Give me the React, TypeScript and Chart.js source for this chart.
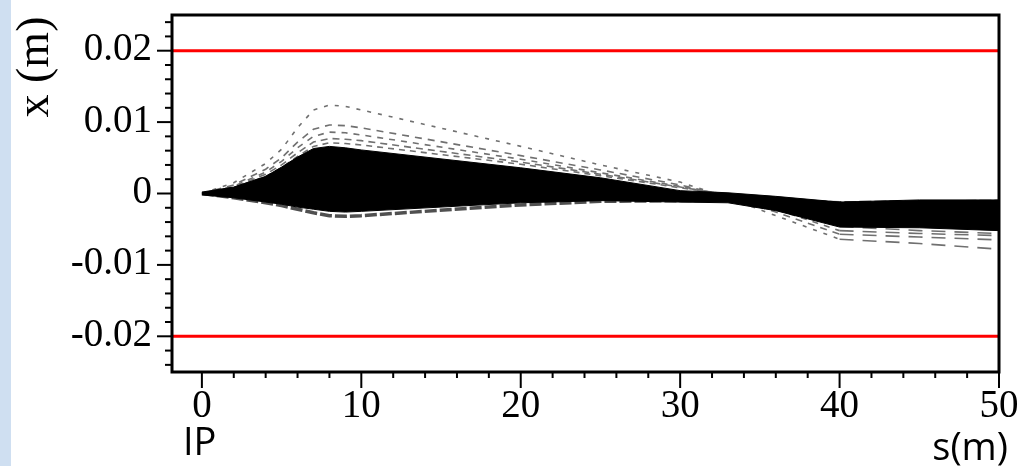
import React, { useEffect, useRef } from "react";
import { Chart, registerables } from "chart.js";

Chart.register(...registerables);

// position along beamline s (m)
const S = [0, 2, 4, 5, 6, 7, 8, 9, 10, 20, 25, 30, 33, 36, 40, 45, 50];

// dense core of the beam (envelope of the black bundle), x (m)
const BAND_UPPER = [0.0002, 0.0009, 0.0024, 0.0037, 0.0051, 0.0063, 0.0066, 0.0064, 0.0061, 0.0036, 0.0022, 0.0004, 0.0001, -0.0004, -0.0012, -0.0009, -0.0009];
const BAND_LOWER = [-0.0002, -0.0006, -0.0012, -0.0015, -0.0019, -0.0022, -0.0025, -0.0026, -0.0025, -0.0013, -0.001, -0.0012, -0.0013, -0.0024, -0.0047, -0.0048, -0.0052];

// grey lower fringe of the bundle
const TRACK_LOW = [0, -0.0006, -0.0013, -0.0017, -0.0022, -0.0027, -0.0031, -0.0032, -0.0031, -0.0016, -0.0011, -0.001, -0.0009, -0.001, -0.0013, -0.0012, -0.0011];

// dashed outlier trajectories
const TRACK_A = [0, 0.0015, 0.0042, 0.0062, 0.0092, 0.0117, 0.0124, 0.0122, 0.0117, 0.0066, 0.004, 0.0016, -0.0006, -0.0031, -0.0064, -0.007, -0.0078];
const TRACK_B = [0, 0.0012, 0.0034, 0.005, 0.0072, 0.009, 0.0096, 0.0095, 0.0092, 0.0053, 0.0033, 0.0012, -0.0004, -0.0026, -0.0057, -0.0061, -0.0065];
const TRACK_C = [0, 0.001, 0.003, 0.0045, 0.0064, 0.008, 0.0086, 0.0085, 0.0082, 0.0048, 0.0029, 0.001, -0.0003, -0.0022, -0.0052, -0.0056, -0.0059];
const TRACK_D = [0, 0.0009, 0.0027, 0.004, 0.0057, 0.0072, 0.0077, 0.0076, 0.0074, 0.0044, 0.0027, 0.0009, -0.0002, -0.0019, -0.0046, -0.0052, -0.0056];
const TRACK_E = [0, 0.0008, 0.0024, 0.0036, 0.0052, 0.0066, 0.0071, 0.007, 0.0068, 0.0041, 0.0025, 0.0008, -0.0001, -0.0016, -0.0041, -0.0046, -0.0049];

// aperture limits (red lines)
const APERTURE = [0.02, -0.02];

// axes
const X_MIN = -1.875;
const X_MAX = 50;
const Y_MIN = -0.025;
const Y_MAX = 0.025;
const X_MAJOR = [0, 10, 20, 30, 40, 50];
const X_LABELS = ["0", "10", "20", "30", "40", "50"];
const X_MINOR = [2, 4, 6, 8, 12, 14, 16, 18, 22, 24, 26, 28, 32, 34, 36, 38, 42, 44, 46, 48];
const Y_MAJOR = [0.02, 0.01, 0, -0.01, -0.02];
const Y_LABELS = ["0.02", "0.01", "0", "-0.01", "-0.02"];
const Y_MINOR = [0.024, 0.022, 0.018, 0.016, 0.014, 0.012, 0.008, 0.006, 0.004, 0.002, -0.002, -0.004, -0.006, -0.008, -0.012, -0.014, -0.016, -0.018, -0.022, -0.024];

const Y_TITLE = "x (m)";
const X_TITLE = "s(m)";
const IP_LABEL = "IP";

const pts = (ys: number[]) => ys.map((v, i) => ({ x: S[i], y: v }));

const decorPlugin = {
  id: "decor",
  afterDatasetsDraw(chart: any) {
    const { ctx, chartArea: a, scales } = chart;
    const x = scales.x;
    const y = scales.y;
    const line = (x1: number, y1: number, x2: number, y2: number) => {
      ctx.beginPath();
      ctx.moveTo(x1, y1);
      ctx.lineTo(x2, y2);
      ctx.stroke();
    };
    ctx.save();
    // aperture lines
    ctx.strokeStyle = "#ff0000";
    ctx.lineWidth = 3;
    APERTURE.forEach((v) => {
      const py = y.getPixelForValue(v);
      line(a.left, py, a.right, py);
    });
    // frame
    ctx.strokeStyle = "#000";
    ctx.lineWidth = 3;
    ctx.strokeRect(a.left, a.top, a.right - a.left, a.bottom - a.top);
    // ticks
    ctx.lineWidth = 2;
    X_MINOR.forEach((v) => {
      const px = x.getPixelForValue(v);
      line(px, a.bottom, px, a.bottom + 6);
    });
    X_MAJOR.forEach((v) => {
      const px = x.getPixelForValue(v);
      line(px, a.bottom, px, a.bottom + 16);
    });
    Y_MINOR.forEach((v) => {
      const py = y.getPixelForValue(v);
      line(a.left - 7, py, a.left, py);
    });
    Y_MAJOR.forEach((v) => {
      const py = y.getPixelForValue(v);
      line(a.left - 15, py, a.left, py);
    });
    // tick labels
    ctx.fillStyle = "#000";
    ctx.font = "39px 'Liberation Serif', serif";
    ctx.textBaseline = "alphabetic";
    ctx.textAlign = "center";
    X_MAJOR.forEach((v, i) => {
      ctx.fillText(X_LABELS[i], x.getPixelForValue(v), a.bottom + 45);
    });
    ctx.textAlign = "right";
    Y_MAJOR.forEach((v, i) => {
      ctx.fillText(Y_LABELS[i], a.left - 20, y.getPixelForValue(v) + 9.5);
    });
    // y title (rotated)
    ctx.save();
    ctx.translate(48, a.top + 52);
    ctx.rotate(-Math.PI / 2);
    ctx.font = "46px 'Liberation Serif', serif";
    ctx.textAlign = "center";
    ctx.textBaseline = "alphabetic";
    ctx.fillText(Y_TITLE, 0, 0);
    ctx.restore();
    // sans annotations
    ctx.font = "38px 'Open Sans', sans-serif";
    ctx.textAlign = "left";
    ctx.fillText(IP_LABEL, x.getPixelForValue(0) - 19, 455);
    ctx.textAlign = "right";
    ctx.fillText(X_TITLE, a.right + 9, 460);
    ctx.restore();
  },
};

export default function App() {
  const ref = useRef<HTMLCanvasElement | null>(null);
  useEffect(() => {
    if (!ref.current) return;
    const grey = "#707070";
    const dashed = (data: number[], dash: number[]) => ({
      data: pts(data),
      borderColor: grey,
      borderWidth: 1.6,
      borderDash: dash,
      pointRadius: 0,
      fill: false,
      segment: {
        borderDash: (c: any) => (c.p0.parsed.x >= 40 ? [14, 9] : dash),
      },
    });
    const chart = new Chart(ref.current, {
      type: "line",
      data: {
        datasets: [
          {
            label: "core upper",
            data: pts(BAND_UPPER),
            borderColor: "#000",
            borderWidth: 1,
            pointRadius: 0,
            fill: false,
          },
          {
            label: "core lower",
            data: pts(BAND_LOWER),
            borderColor: "#000",
            borderWidth: 1,
            pointRadius: 0,
            backgroundColor: "#000",
            fill: "-1",
          },
          {
            label: "fringe",
            data: pts(TRACK_LOW),
            borderColor: "#505050",
            borderWidth: 3.5,
            borderDash: [12, 3],
            pointRadius: 0,
            fill: false,
          },
          { label: "A", ...dashed(TRACK_A, [4, 7]) },
          { label: "B", ...dashed(TRACK_B, [7, 6]) },
          { label: "C", ...dashed(TRACK_C, [6, 6]) },
          { label: "D", ...dashed(TRACK_D, [7, 5]) },
          { label: "E", ...dashed(TRACK_E, [6, 5]) },
        ],
      },
      options: {
        responsive: false,
        animation: false,
        devicePixelRatio: 1,
        layout: { padding: { left: 0, right: 20, top: 15, bottom: 0 } },
        plugins: { legend: { display: false }, tooltip: { enabled: false } },
        elements: { line: { tension: 0 } },
        scales: {
          x: {
            type: "linear",
            min: X_MIN,
            max: X_MAX,
            grid: { display: false, drawTicks: false },
            border: { display: false },
            ticks: { display: false },
            afterFit: (s: any) => {
              s.height = 94;
            },
          },
          y: {
            type: "linear",
            min: Y_MIN,
            max: Y_MAX,
            grid: { display: false, drawTicks: false },
            border: { display: false },
            ticks: { display: false },
            afterFit: (s: any) => {
              s.width = 172;
            },
          },
        },
      },
      plugins: [decorPlugin],
    } as any);
    return () => chart.destroy();
  }, []);

  return (
    <div style={{ position: "fixed", left: 0, top: 0, width: 1019, height: 466, background: "#fff" }}>
      <div style={{ position: "absolute", left: 0, top: 0, width: 11, height: 466, background: "#cfdff1" }} />
      <canvas ref={ref} width={1019} height={466} style={{ position: "absolute", left: 0, top: 0 }} />
    </div>
  );
}
